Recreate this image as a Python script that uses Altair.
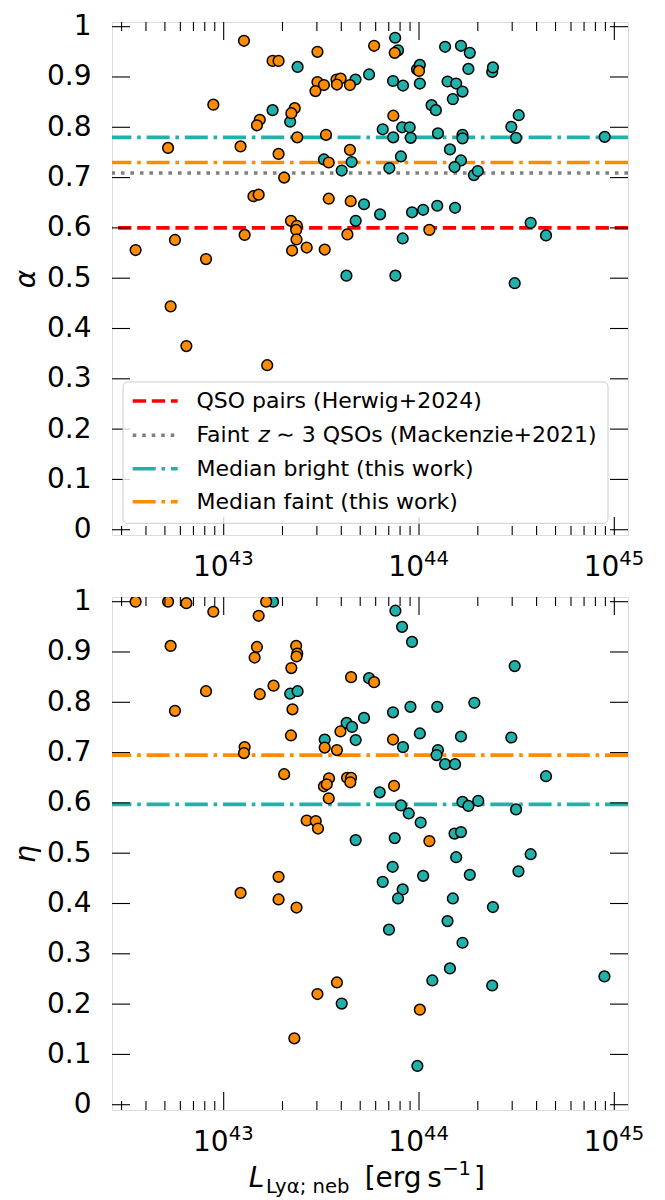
import altair as alt
import pandas as pd

# ---------------- data ----------------
# Top panel: alpha vs L_Lya,neb
L_ALPHA_BRIGHT = [2.39e43, 4.73e43, 1.78e43, 2.19e43, 3.26e43, 4.52e43, 4.02e43, 5.23e43, 4.74e43, 4.25e43,
                  7.55e43, 7.81e43, 5.55e43, 7.36e43, 8.28e43, 9.77e43, 1.01e44, 1.01e44, 1.36e44, 1.64e44,
                  1.82e44, 1.79e44, 1.40e44, 1.55e44, 1.67e44, 1.49e44, 2.37e44, 2.39e44, 1.16e44, 1.22e44,
                  6.52e43, 8.20e43, 8.96e43, 7.38e43, 9.07e43, 1.25e44, 1.67e44, 1.67e44, 1.44e44, 1.64e44,
                  1.52e44, 8.08e43, 7.05e43, 1.91e44, 2.00e44, 2.97e44, 3.24e44, 3.14e44, 8.93e44, 6.32e43,
                  9.21e43, 1.05e44, 1.24e44, 1.53e44, 8.25e43, 3.73e44, 4.47e44, 7.57e43, 3.09e44]
ALPHA_BRIGHT = [0.920, 0.895, 0.834, 0.811, 0.736, 0.731, 0.714, 0.647, 0.614, 0.505,
                0.978, 0.953, 0.905, 0.892, 0.883, 0.915, 0.924, 0.887, 0.960, 0.962,
                0.948, 0.916, 0.891, 0.887, 0.871, 0.856, 0.910, 0.919, 0.844, 0.834,
                0.796, 0.800, 0.800, 0.780, 0.779, 0.788, 0.785, 0.778, 0.756, 0.734,
                0.721, 0.742, 0.719, 0.705, 0.713, 0.801, 0.824, 0.779, 0.781, 0.627,
                0.631, 0.636, 0.644, 0.640, 0.579, 0.610, 0.585, 0.505, 0.490]
L_ALPHA_FAINT = [1.27e43, 1.78e43, 1.91e43, 3.02e43, 3.02e43, 3.26e43, 2.95e43, 3.78e43, 3.97e43, 3.80e43,
                 4.43e43, 8.85e42, 2.31e43, 2.22e43, 1.53e43, 1.48e43, 2.38e43, 3.34e43, 5.19e42, 1.22e43,
                 1.91e43, 4.43e43, 3.45e43, 2.04e43, 1.42e43, 1.51e43, 3.45e43, 4.47e43, 2.21e43, 2.37e43,
                 2.35e43, 1.28e43, 4.30e43, 2.36e43, 5.63e42, 3.54e42, 2.24e43, 2.66e43, 3.29e43, 8.12e42,
                 5.35e42, 6.44e42, 1.67e43, 5.89e43, 7.51e43, 1.00e44, 7.39e43, 1.13e44]
ALPHA_FAINT = [0.972, 0.932, 0.932, 0.950, 0.890, 0.884, 0.872, 0.895, 0.897, 0.885,
               0.884, 0.845, 0.838, 0.828, 0.815, 0.804, 0.780, 0.785, 0.759, 0.762,
               0.747, 0.755, 0.730, 0.700, 0.663, 0.666, 0.658, 0.653, 0.614, 0.604,
               0.596, 0.586, 0.587, 0.577, 0.576, 0.556, 0.555, 0.561, 0.557, 0.538,
               0.444, 0.365, 0.327, 0.962, 0.948, 0.912, 0.823, 0.596]

# Bottom panel: eta vs L_Lya,neb
L_ETA_BRIGHT = [1.79e43, 5.55e43, 2.19e43, 2.39e43, 5.23e43, 4.26e43, 4.54e43, 4.74e43, 3.29e43, 4.74e43,
                7.57e43, 8.19e43, 9.21e43, 3.09e44, 7.36e43, 9.04e43, 1.24e44, 1.92e44, 8.28e43, 1.01e44,
                1.64e44, 2.97e44, 1.25e44, 1.23e44, 1.36e44, 1.53e44, 4.47e44, 6.29e43, 8.09e43, 8.86e43,
                1.02e44, 1.67e44, 1.79e44, 2.01e44, 3.14e44, 7.51e43, 1.52e44, 1.64e44, 1.55e44, 3.73e44,
                7.33e43, 6.52e43, 8.25e43, 7.81e43, 1.05e44, 1.82e44, 3.23e44, 1.49e44, 2.39e44, 7.02e43,
                1.40e44, 1.67e44, 1.44e44, 1.17e44, 2.37e44, 8.90e44, 9.81e43, 4.02e43]
ETA_BRIGHT = [1.000, 0.848, 0.817, 0.822, 0.769, 0.759, 0.751, 0.725, 0.726, 0.526,
              0.982, 0.950, 0.920, 0.872, 0.780, 0.791, 0.791, 0.799, 0.711, 0.738,
              0.732, 0.730, 0.705, 0.695, 0.677, 0.677, 0.653, 0.621, 0.595, 0.579,
              0.561, 0.602, 0.594, 0.604, 0.587, 0.530, 0.539, 0.542, 0.492, 0.498,
              0.473, 0.443, 0.428, 0.410, 0.455, 0.457, 0.464, 0.410, 0.393, 0.348,
              0.365, 0.322, 0.271, 0.247, 0.237, 0.255, 0.077, 0.201]
L_ETA_FAINT = [3.54e42, 5.19e42, 6.44e42, 8.85e42, 1.65e43, 1.51e43, 5.35e42, 1.48e43, 1.44e43, 2.35e43,
               2.38e43, 2.36e43, 2.22e43, 4.49e43, 8.12e42, 1.53e43, 1.80e43, 5.63e42, 2.25e43, 3.96e43,
               2.21e43, 3.29e43, 3.80e43, 1.28e43, 1.27e43, 2.04e43, 3.46e43, 3.26e43, 3.37e43, 4.28e43,
               4.49e43, 4.45e43, 3.45e43, 2.66e43, 2.96e43, 3.04e43, 5.89e43, 7.36e43, 7.45e43, 1.13e44,
               1.01e44, 1.91e43, 1.22e43, 1.91e43, 2.36e43, 3.80e43, 3.02e43, 2.30e43]
ETA_FAINT = [1.000, 1.000, 0.997, 0.980, 1.000, 0.972, 0.912, 0.910, 0.889, 0.912,
             0.897, 0.891, 0.868, 0.850, 0.822, 0.816, 0.833, 0.783, 0.786, 0.742,
             0.734, 0.710, 0.705, 0.711, 0.699, 0.657, 0.649, 0.633, 0.637, 0.650,
             0.650, 0.641, 0.609, 0.565, 0.564, 0.549, 0.840, 0.726, 0.634, 0.524,
             0.189, 0.453, 0.421, 0.408, 0.392, 0.243, 0.220, 0.132]

# Reference / median levels
ALPHA_HERWIG = 0.60
ALPHA_MACKENZIE = 0.709
ALPHA_MED_BRIGHT = 0.780
ALPHA_MED_FAINT = 0.730
ETA_MED_BRIGHT = 0.597
ETA_MED_FAINT = 0.695

# Axis ticks / labels
X_DOMAIN = [2.68e42, 1.175e45]
Y_DOMAIN = [-0.0105, 1.0093]
X_MAJOR = [1e43, 1e44, 1e45]
X_MAJOR_EXP = ["43", "44", "45"]
X_MINOR = [3e42, 4e42, 5e42, 6e42, 7e42, 8e42, 9e42,
           2e43, 3e43, 4e43, 5e43, 6e43, 7e43, 8e43, 9e43,
           2e44, 3e44, 4e44, 5e44, 6e44, 7e44, 8e44, 9e44]
Y_TICKS = [0.0, 0.1, 0.2, 0.3, 0.4, 0.5, 0.6, 0.7, 0.8, 0.9, 1.0]

LEGEND_LABELS = ["QSO pairs (Herwig+2024)",
                 "Faint", "z", "\u223c 3 QSOs (Mackenzie+2021)",
                 "Median bright (this work)",
                 "Median faint (this work)"]

# ---------------- styling ----------------
W, H = 516, 513
TEAL = "#20B2AA"
ORANGE = "#FF8C00"
RED = "#FF0000"
GREY = "#808080"
LW = 3.6
DASHED = [13.3, 5.8]
DOTTED = [3.6, 5.9]
DASHDOT = [23, 5.8, 3.6, 5.8]
FONT = "DejaVu Sans"

xs = alt.Scale(type="log", domain=X_DOMAIN, nice=False)
ys = alt.Scale(domain=Y_DOMAIN, nice=False, zero=False)


def yaxis(title):
    return alt.Axis(values=Y_TICKS, labelExpr="format(datum.value, '.1~f')", ticks=False,
                    domain=False, grid=False, labelFontSize=28, labelFont=FONT, labelColor="black",
                    labelPadding=21, labelFlush=False, labelOverlap=False,
                    title=title, titleFontSize=28, titleFont=FONT, titleFontStyle="italic",
                    titleFontWeight="normal", titleColor="black", titlePadding=5.5)


def one(**kw):
    return pd.DataFrame({k: [v] for k, v in kw.items()})


def panel(Lb, vb, Lf, vf, hlines, ytitle, with_legend, with_xtitle):
    ya = yaxis(ytitle)
    X = lambda f: alt.X(f, scale=xs, axis=None)
    Y = lambda f: alt.Y(f, scale=ys, axis=ya)
    layers = []
    # horizontal reference lines
    for val, col, dash in hlines:
        layers.append(alt.Chart(one(v=val)).mark_rule(color=col, strokeWidth=LW, strokeDash=dash,
                                                      clip=True).encode(y=Y("v:Q")))
    # points (bright first, faint on top)
    dfb = pd.DataFrame({"L": Lb, "v": vb})
    dff = pd.DataFrame({"L": Lf, "v": vf})
    for df, col in ((dfb, TEAL), (dff, ORANGE)):
        layers.append(alt.Chart(df).mark_circle(size=115, color=col, opacity=1, stroke="black",
                                                strokeWidth=1.5, clip=True)
                      .encode(x=X("L:Q"), y=Y("v:Q")))
    # inward ticks on all four sides
    dmaj = pd.DataFrame({"t": X_MAJOR})
    dmin = pd.DataFrame({"t": X_MINOR})
    dy = pd.DataFrame({"t": Y_TICKS})
    tk = dict(color="black", strokeWidth=1.1)
    for d, ln in ((dmaj, 18), (dmin, 9)):
        layers.append(alt.Chart(d).mark_rule(**tk).encode(x=X("t:Q"), y=alt.value(H), y2=alt.value(H - ln)))
        layers.append(alt.Chart(d).mark_rule(**tk).encode(x=X("t:Q"), y=alt.value(0), y2=alt.value(ln)))
    layers.append(alt.Chart(dy).mark_rule(**tk).encode(y=Y("t:Q"), x=alt.value(0), x2=alt.value(18)))
    layers.append(alt.Chart(dy).mark_rule(**tk).encode(y=Y("t:Q"), x=alt.value(W - 18), x2=alt.value(W)))
    # x tick labels 10^n
    dl = pd.DataFrame({"t": X_MAJOR, "base": ["10"] * len(X_MAJOR), "exp": X_MAJOR_EXP})
    layers.append(alt.Chart(dl).mark_text(align="right", baseline="alphabetic", fontSize=28, font=FONT,
                                          color="black", dx=5)
                  .encode(x=X("t:Q"), y=alt.value(H + 41), text="base:N"))
    layers.append(alt.Chart(dl).mark_text(align="left", baseline="alphabetic", fontSize=19.6, font=FONT,
                                          color="black", dx=5)
                  .encode(x=X("t:Q"), y=alt.value(H + 30), text="exp:N"))
    if with_xtitle:
        pieces = [("L", 136.7, H + 77, 28, "italic"),
                  ("Ly\u03b1; neb", 154.0, H + 83, 19.6, "normal"),
                  ("[erg\u2009s", 252.7, H + 77, 28, "normal"),
                  ("\u22121", 330.2, H + 65, 19.6, "normal"),
                  ("]", 362.0, H + 77, 28, "normal")]
        for txt, px, py, fs, st in pieces:
            layers.append(alt.Chart(one(s=txt)).mark_text(align="left", baseline="alphabetic", fontSize=fs,
                                                           font=FONT, fontStyle=st, color="black")
                          .encode(x=alt.value(px), y=alt.value(py), text="s:N"))
    if with_legend:
        layers.append(alt.Chart(one(k=1)).mark_rect(fill="white", fillOpacity=0.8, stroke="#cccccc",
                                                    strokeWidth=1, cornerRadius=4.5)
                      .encode(x=alt.value(11), x2=alt.value(496), y=alt.value(360), y2=alt.value(501.3)))
        rows = [379, 413.3, 446.7, 479.7]
        styles = [(RED, DASHED), (GREY, DOTTED), (TEAL, DASHDOT), (ORANGE, DASHDOT)]
        for ry, (col, dash) in zip(rows, styles):
            layers.append(alt.Chart(one(k=1)).mark_rule(color=col, strokeWidth=LW, strokeDash=dash)
                          .encode(x=alt.value(20.7), x2=alt.value(65.7), y=alt.value(ry)))
        fs = 22
        tx = 84.4
        texts = [(LEGEND_LABELS[0], tx, rows[0], "normal"),
                 (LEGEND_LABELS[1], tx, rows[1], "normal"),
                 (LEGEND_LABELS[2], tx + 61.8, rows[1], "italic"),
                 (LEGEND_LABELS[3], tx + 61.8 + 11.6 + 6.5, rows[1], "normal"),
                 (LEGEND_LABELS[4], tx, rows[2], "normal"),
                 (LEGEND_LABELS[5], tx, rows[3], "normal")]
        for txt, px, py, st in texts:
            layers.append(alt.Chart(one(s=txt)).mark_text(align="left", baseline="middle", fontSize=fs,
                                                           font=FONT, fontStyle=st, color="black")
                          .encode(x=alt.value(px), y=alt.value(py), text="s:N"))
    return alt.layer(*layers).properties(width=W, height=H)


top = panel(L_ALPHA_BRIGHT, ALPHA_BRIGHT, L_ALPHA_FAINT, ALPHA_FAINT,
            [(ALPHA_HERWIG, RED, DASHED), (ALPHA_MACKENZIE, GREY, DOTTED),
             (ALPHA_MED_BRIGHT, TEAL, DASHDOT), (ALPHA_MED_FAINT, ORANGE, DASHDOT)],
            "\u03b1", True, False)
bottom = panel(L_ETA_BRIGHT, ETA_BRIGHT, L_ETA_FAINT, ETA_FAINT,
               [(ETA_MED_BRIGHT, TEAL, DASHDOT), (ETA_MED_FAINT, ORANGE, DASHDOT)],
               "\u03b7", False, True)

chart = (alt.vconcat(top, bottom, spacing=62, bounds="flush")
         .properties(padding={"left": 4, "top": 4, "right": 2, "bottom": 2}, background="white")
         .configure_view(stroke="black", strokeWidth=1.3)
         .configure(font=FONT))

chart.save("out.html", embed_options={"renderer": "svg", "actions": False})
